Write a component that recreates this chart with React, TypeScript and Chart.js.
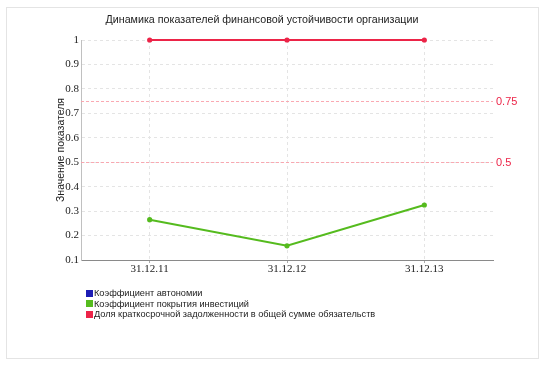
import React, { useEffect, useRef } from "react";
import { Chart, registerables } from "chart.js";

Chart.register(...registerables);

const TITLE = "Динамика показателей финансовой устойчивости организации";
const Y_TITLE = "Значение показателя";
const categories = ["31.12.11", "31.12.12", "31.12.13"];
const autonomy: (number | null)[] = [null, null, null];
const investCoverage = [0.265, 0.158, 0.325];
const shortTermShare = [1, 1, 1];
const thresholds = [0.75, 0.5];
const thresholdLabels = ["0.75", "0.5"];
const seriesNames = [
  "Коэффициент автономии",
  "Коэффициент покрытия инвестиций",
  "Доля краткосрочной задолженности в общей сумме обязательств",
];
const seriesColors = ["#1c1cb4", "#55bb1e", "#ec2448"];

const thresholdPlugin = {
  id: "thresholds",
  beforeDatasetsDraw(chart: any) {
    const { ctx, chartArea, scales } = chart;
    const y = scales.y;
    ctx.save();
    thresholds.forEach((v, i) => {
      const py = Math.round(y.getPixelForValue(v)) + 0.5;
      ctx.strokeStyle = "rgba(250,160,170,0.9)";
      ctx.lineWidth = 1;
      ctx.setLineDash([3, 2]);
      ctx.beginPath();
      ctx.moveTo(chartArea.left, py);
      ctx.lineTo(chartArea.right, py);
      ctx.stroke();
      ctx.setLineDash([]);
      ctx.fillStyle = "#ec2448";
      ctx.font = "11px 'Liberation Sans', sans-serif";
      ctx.textAlign = "left";
      ctx.textBaseline = "middle";
      ctx.fillText(thresholdLabels[i], chartArea.right + 3, py);
    });
    ctx.restore();
  },
};

const titlePlugin = {
  id: "customTitle",
  afterDraw(chart: any) {
    const { ctx } = chart;
    ctx.save();
    ctx.fillStyle = "#222";
    ctx.font = "10.7px 'Liberation Sans', sans-serif";
    ctx.textAlign = "center";
    ctx.textBaseline = "middle";
    ctx.fillText(TITLE, 262, 20);
    ctx.restore();
  },
};

export default function App() {
  const ref = useRef<HTMLCanvasElement>(null);
  useEffect(() => {
    if (!ref.current) return;
    const chart = new Chart(ref.current, {
      type: "line",
      data: {
        labels: categories,
        datasets: [
          { label: seriesNames[0], data: autonomy, borderColor: seriesColors[0], backgroundColor: seriesColors[0] },
          { label: seriesNames[1], data: investCoverage, borderColor: seriesColors[1], backgroundColor: seriesColors[1] },
          { label: seriesNames[2], data: shortTermShare, borderColor: seriesColors[2], backgroundColor: seriesColors[2] },
        ].map((d) => ({ ...d, borderWidth: 2, pointRadius: 1.6, pointHoverRadius: 1.6, tension: 0, clip: false as any })),
      },
      options: {
        responsive: false,
        animation: false,
        devicePixelRatio: 1,
        layout: { padding: { left: 55, right: 51, top: 40, bottom: 85 } },
        plugins: {
          legend: { display: false },
          tooltip: { enabled: false },
          title: { display: false },
        },
        scales: {
          x: {
            offset: true,
            grid: {
              display: true,
              color: "#e4e4e4",
              drawTicks: true,
              tickLength: 3,
              offset: false,
              tickColor: "#aaa",
            },
            border: { display: true, color: "#8a8a8a", dash: [3, 3] },
            ticks: {
              color: "#222",
              font: { family: "'Liberation Serif', serif", size: 11 },
              padding: 0,
              maxRotation: 0,
            },
            afterFit(scale: any) {
              scale.height = 20;
            },
          },
          y: {
            min: 0.1,
            max: 1,
            grid: { color: "#e4e4e4", drawTicks: false },
            border: { display: true, color: "#c0c0c0", dash: [3, 3] },
            ticks: {
              stepSize: 0.1,
              color: "#222",
              padding: 2,
              font: { family: "'Liberation Serif', serif", size: 11 },
              callback: (v: any) => String(Number(Number(v).toFixed(1))),
            },
            title: {
              display: true,
              text: Y_TITLE,
              color: "#222",
              font: { family: "'Liberation Sans', sans-serif", size: 10.5 },
              padding: { top: 0, bottom: 0 },
            },
            afterFit(scale: any) {
              scale.width = 26;
            },
          },
        },
      },
      plugins: [thresholdPlugin, titlePlugin],
    });
    return () => chart.destroy();
  }, []);

  return (
    <div style={{ position: "fixed", left: 0, top: 0, width: 544, height: 365, background: "#fff" }}>
      <div
        style={{
          position: "absolute",
          left: 6,
          top: 7,
          width: 531,
          height: 350,
          border: "1px solid #e4e4e4",
        }}
      />
      <canvas ref={ref} width={544} height={365} style={{ position: "absolute", left: 0, top: 0 }} />
      <div
        style={{
          position: "absolute",
          left: 86,
          top: 288,
          fontFamily: "'Liberation Sans', sans-serif",
          fontSize: 9.2,
          lineHeight: "10.5px",
          color: "#222",
        }}
      >
        {seriesNames.map((n, i) => (
          <div key={n} style={{ display: "flex", alignItems: "center", whiteSpace: "nowrap" }}>
            <span style={{ display: "inline-block", width: 7, height: 7, background: seriesColors[i], marginRight: 1 }} />
            <span>{n}</span>
          </div>
        ))}
      </div>
    </div>
  );
}
